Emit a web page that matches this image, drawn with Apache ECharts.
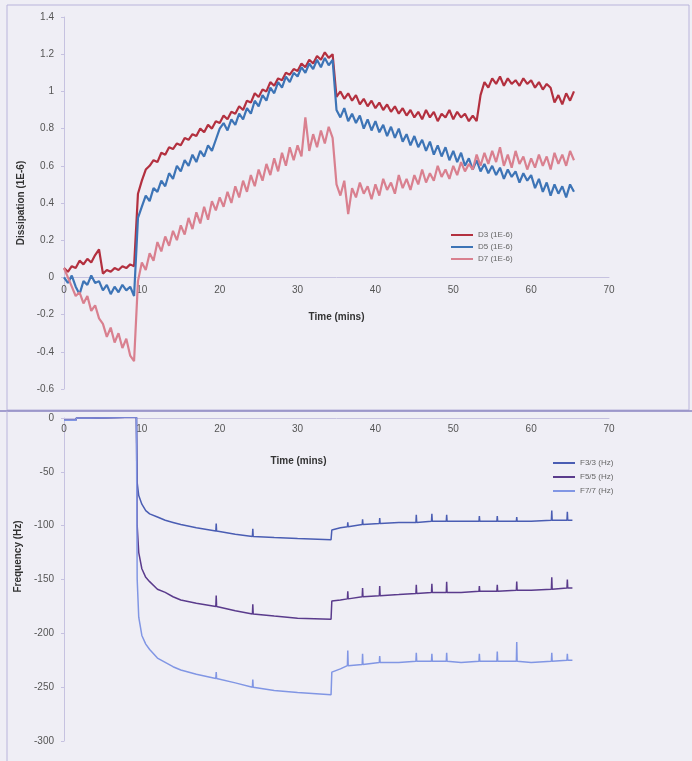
<!DOCTYPE html>
<html><head><meta charset="utf-8">
<script src="https://cdn.jsdelivr.net/npm/echarts@6/dist/echarts.min.js"></script>
<style>html,body{margin:0;padding:0;background:#efeef5;} #c{width:692px;height:761px;}</style>
</head><body><div id="c"></div>
<script>
// ---- Dissipation panel (time in minutes) ----
const timeD = [
 0,0.5,1,1.5,2,2.5,3,3.5,4,4.5,
 5,5.5,6,6.5,7,7.5,8,8.5,9,9.5,
 10,10.5,11,11.5,12,12.5,13,13.5,14,14.5,
 15,15.5,16,16.5,17,17.5,18,18.5,19,19.5,
 20,20.5,21,21.5,22,22.5,23,23.5,24,24.5,
 25,25.5,26,26.5,27,27.5,28,28.5,29,29.5,
 30,30.5,31,31.5,32,32.5,33,33.5,34,34.5,
 35,35.5,36,36.5,37,37.5,38,38.5,39,39.5,
 40,40.5,41,41.5,42,42.5,43,43.5,44,44.5,
 45,45.5,46,46.5,47,47.5,48,48.5,49,49.5,
 50,50.5,51,51.5,52,52.5,53,53.5,54,54.5,
 55,55.5,56,56.5,57,57.5,58,58.5,59,59.5,
 60,60.5,61,61.5,62,62.5,63,63.5,64,64.5,
 65,65.5
];
const d3 = [
 0.05,0.03,0.06,0.05,0.09,0.07,0.10,0.08,0.12,0.15,
 0.02,0.04,0.03,0.05,0.04,0.06,0.05,0.07,0.06,0.45,
 0.52,0.58,0.60,0.63,0.62,0.67,0.66,0.70,0.69,0.72,
 0.71,0.75,0.74,0.77,0.76,0.80,0.78,0.82,0.80,0.84,
 0.83,0.87,0.85,0.89,0.88,0.92,0.90,0.95,0.94,0.99,
 0.97,1.01,1.00,1.05,1.03,1.07,1.06,1.10,1.09,1.12,
 1.11,1.15,1.13,1.17,1.15,1.19,1.17,1.21,1.18,1.20,
 0.97,1.00,0.96,0.99,0.95,0.98,0.93,0.96,0.92,0.95,
 0.91,0.94,0.90,0.93,0.89,0.92,0.88,0.91,0.87,0.90,
 0.86,0.89,0.85,0.90,0.86,0.89,0.84,0.88,0.86,0.90,
 0.85,0.89,0.86,0.88,0.84,0.87,0.84,0.98,1.05,1.02,
 1.07,1.04,1.08,1.03,1.07,1.04,1.06,1.03,1.07,1.04,
 1.06,1.02,1.05,1.01,1.04,1.02,0.94,0.98,0.93,0.99,
 0.95,1.00
];
const d5 = [
 0.00,-0.03,0.01,-0.05,-0.09,-0.02,-0.04,0.01,-0.03,-0.02,
 -0.07,-0.04,-0.09,-0.05,-0.08,-0.04,-0.07,-0.05,-0.10,0.32,
 0.38,0.44,0.41,0.48,0.46,0.52,0.49,0.56,0.53,0.60,
 0.57,0.63,0.60,0.66,0.62,0.68,0.65,0.71,0.68,0.74,
 0.80,0.83,0.79,0.85,0.82,0.88,0.85,0.91,0.88,0.95,
 0.92,0.98,0.95,1.02,0.99,1.05,1.02,1.08,1.05,1.10,
 1.08,1.13,1.10,1.15,1.12,1.17,1.13,1.18,1.14,1.17,
 0.90,0.86,0.91,0.84,0.88,0.83,0.87,0.80,0.85,0.79,
 0.84,0.78,0.82,0.76,0.81,0.75,0.80,0.73,0.77,0.71,
 0.76,0.70,0.74,0.68,0.73,0.66,0.71,0.65,0.70,0.63,
 0.68,0.62,0.67,0.60,0.64,0.58,0.63,0.57,0.61,0.56,
 0.60,0.55,0.59,0.53,0.58,0.54,0.57,0.51,0.56,0.52,
 0.55,0.48,0.53,0.46,0.51,0.44,0.50,0.45,0.49,0.43,
 0.50,0.46
];
const d7 = [
 0.05,0.00,-0.05,-0.10,-0.08,-0.14,-0.10,-0.18,-0.15,-0.22,
 -0.25,-0.32,-0.27,-0.35,-0.30,-0.38,-0.33,-0.42,-0.45,-0.02,
 0.08,0.04,0.13,0.09,0.19,0.14,0.22,0.17,0.25,0.20,
 0.28,0.23,0.32,0.26,0.35,0.29,0.38,0.31,0.41,0.36,
 0.43,0.38,0.46,0.40,0.49,0.43,0.52,0.46,0.55,0.49,
 0.58,0.52,0.61,0.55,0.64,0.57,0.67,0.60,0.70,0.63,
 0.71,0.65,0.86,0.68,0.77,0.70,0.79,0.72,0.81,0.75,
 0.50,0.44,0.52,0.34,0.48,0.43,0.51,0.45,0.49,0.42,
 0.50,0.44,0.53,0.47,0.51,0.45,0.55,0.48,0.53,0.47,
 0.55,0.50,0.58,0.51,0.56,0.52,0.60,0.54,0.58,0.53,
 0.60,0.55,0.62,0.57,0.61,0.58,0.66,0.60,0.67,0.61,
 0.68,0.62,0.70,0.60,0.66,0.59,0.68,0.61,0.65,0.58,
 0.64,0.59,0.66,0.60,0.65,0.58,0.67,0.61,0.66,0.60,
 0.68,0.63
];

// ---- Frequency panel ----
const timeF = [
 0,1.5,1.6,3.5,3.6,9.3,
 9.4,9.6,10,10.5,11,12,13,14,15,17,19.5,19.55,19.6,22,24.2,24.25,24.3,27,30,34.3,
 34.4,35.5,36.4,36.45,36.5,38.3,38.35,38.4,40.5,40.55,40.6,43,45.2,45.25,45.3,
 47.2,47.25,47.3,49.1,49.15,49.2,51,53.3,53.35,53.4,55.6,55.65,55.7,
 58.1,58.15,58.2,60,62.6,62.65,62.7,64.6,64.65,64.7,65.3
];
const f3 = [
 -2,-2,0,0,1,1,
 -60,-72,-80,-86,-89,-92,-95,-97,-99,-102,-105,-98,-105,-108,-110,-103,-110,-111,-112,-113,
 -104,-102,-101,-97,-101,-99,-94,-99,-98,-93,-98,-97,-97,-90,-97,
 -96,-89,-96,-96,-90,-96,-96,-96,-91,-96,-96,-91,-96,
 -96,-92,-96,-96,-95,-86,-95,-95,-87,-95,-95
];
const f5 = [
 -2,-2,0,0,1,1,
 -100,-125,-140,-148,-152,-159,-162,-166,-169,-172,-175,-165,-175,-179,-182,-173,-182,-184,-186,-187,
 -170,-169,-168,-161,-168,-166,-158,-166,-165,-156,-165,-164,-163,-155,-163,
 -162,-154,-162,-162,-152,-162,-162,-161,-156,-161,-161,-155,-161,
 -160,-152,-160,-160,-159,-148,-159,-158,-150,-158,-158
];
const f7 = [
 -2,-2,0,0,1,1,
 -150,-185,-202,-210,-215,-223,-227,-231,-234,-238,-242,-236,-242,-246,-250,-243,-250,-253,-255,-257,
 -236,-233,-230,-216,-230,-229,-219,-229,-227,-221,-227,-227,-226,-218,-226,
 -226,-219,-226,-226,-218,-226,-227,-226,-219,-226,-226,-217,-226,
 -226,-208,-226,-227,-226,-218,-226,-225,-219,-225,-225
];

const namesD = ['D3 (1E-6)','D5 (1E-6)','D7 (1E-6)'];
const namesF = ['F3/3 (Hz)','F5/5 (Hz)','F7/7 (Hz)'];
const colorsD = ['#b3303f','#3d74b6','#d9808f'];
const colorsF = ['#4a5db3','#5a3b8c','#8196e4'];

const pair = (ts, vs) => ts.map((t, i) => [t, vs[i]]);

const axisCol = '#c6c2e0';
const labelStyle = {color:'#555', fontSize:10, fontFamily:'Liberation Sans, Arial, sans-serif'};
const nameStyle = {color:'#333', fontSize:10, fontWeight:'bold', fontFamily:'Liberation Sans, Arial, sans-serif'};

const chart = echarts.init(document.getElementById('c'), null, {renderer:'canvas'});
chart.setOption({
  animation:false,
  backgroundColor:'#efeef5',
  graphic:[
    {type:'rect', shape:{x:7, y:5, width:682, height:405}, style:{fill:'none', stroke:'#b9b4db', lineWidth:1}, silent:true, z:-1},
    {type:'line', shape:{x1:0, y1:411, x2:692, y2:411}, style:{stroke:'#8a83c0', lineWidth:1.5}, silent:true, z:-1},
    {type:'line', shape:{x1:7, y1:411, x2:7, y2:761}, style:{stroke:'#b9b4db', lineWidth:1}, silent:true, z:-1}
  ],
  grid:[
    {left:64, right:83, top:17, height:372},
    {left:64, right:83, top:418, height:323}
  ],
  legend:[
    {data:namesD, orient:'vertical', left:446, top:226, itemWidth:22, itemHeight:2, itemGap:4, icon:'rect',
     textStyle:{color:'#666', fontSize:8, fontFamily:'Liberation Sans, Arial, sans-serif'}},
    {data:namesF, orient:'vertical', left:548, top:454, itemWidth:22, itemHeight:2, itemGap:6, icon:'rect',
     textStyle:{color:'#666', fontSize:8, fontFamily:'Liberation Sans, Arial, sans-serif'}}
  ],
  xAxis:[
    {gridIndex:0, type:'value', min:0, max:70, interval:10, position:'bottom', offset:-112,
     axisLine:{onZero:false, lineStyle:{color:axisCol}}, axisTick:{show:false}, splitLine:{show:false},
     axisLabel:Object.assign({margin:8}, labelStyle),
     name:'Time (mins)', nameLocation:'middle', nameGap:35, nameTextStyle:nameStyle},
    {gridIndex:1, type:'value', min:0, max:70, interval:10, position:'bottom', offset:-323,
     axisLine:{onZero:false, lineStyle:{color:axisCol}}, axisTick:{show:false}, splitLine:{show:false},
     axisLabel:Object.assign({margin:6}, labelStyle),
     name:'Time (mins)', nameLocation:'middle', nameGap:38,
     nameTextStyle:Object.assign({padding:[0,76,0,0]}, nameStyle)}
  ],
  yAxis:[
    {gridIndex:0, type:'value', min:-0.6, max:1.4, interval:0.2,
     axisLine:{show:true, onZero:false, lineStyle:{color:axisCol}}, axisTick:{show:true, length:3, lineStyle:{color:axisCol}},
     splitLine:{show:false}, axisLabel:Object.assign({margin:10}, labelStyle),
     name:'Dissipation (1E-6)', nameLocation:'middle', nameGap:35, nameTextStyle:nameStyle},
    {gridIndex:1, type:'value', min:-300, max:0, interval:50,
     axisLine:{show:true, onZero:false, lineStyle:{color:axisCol}}, axisTick:{show:true, length:3, lineStyle:{color:axisCol}},
     splitLine:{show:false}, axisLabel:Object.assign({margin:10}, labelStyle),
     name:'Frequency (Hz)', nameLocation:'middle', nameGap:35,
     nameTextStyle:Object.assign({padding:[0,0,0,46]}, nameStyle)}
  ],
  series:[
    {name:namesD[0], type:'line', xAxisIndex:0, yAxisIndex:0, data:pair(timeD,d3), showSymbol:false, symbol:'none', lineStyle:{width:2.2, color:colorsD[0]}, itemStyle:{color:colorsD[0]}},
    {name:namesD[1], type:'line', xAxisIndex:0, yAxisIndex:0, data:pair(timeD,d5), showSymbol:false, symbol:'none', lineStyle:{width:2.2, color:colorsD[1]}, itemStyle:{color:colorsD[1]}},
    {name:namesD[2], type:'line', xAxisIndex:0, yAxisIndex:0, data:pair(timeD,d7), showSymbol:false, symbol:'none', lineStyle:{width:2.2, color:colorsD[2]}, itemStyle:{color:colorsD[2]}},
    {name:namesF[0], type:'line', xAxisIndex:1, yAxisIndex:1, data:pair(timeF,f3), showSymbol:false, symbol:'none', lineStyle:{width:1.5, color:colorsF[0]}, itemStyle:{color:colorsF[0]}},
    {name:namesF[1], type:'line', xAxisIndex:1, yAxisIndex:1, data:pair(timeF,f5), showSymbol:false, symbol:'none', lineStyle:{width:1.5, color:colorsF[1]}, itemStyle:{color:colorsF[1]}},
    {name:namesF[2], type:'line', xAxisIndex:1, yAxisIndex:1, data:pair(timeF,f7), showSymbol:false, symbol:'none', lineStyle:{width:1.5, color:colorsF[2]}, itemStyle:{color:colorsF[2]}}
  ]
});
</script></body></html>
